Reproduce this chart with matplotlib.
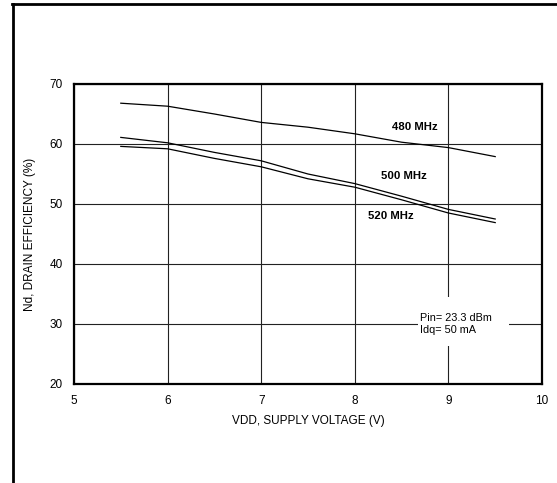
import matplotlib
matplotlib.use("Agg")
import matplotlib.pyplot as plt
from matplotlib.lines import Line2D
from matplotlib.patches import Rectangle

plt.rcParams['font.family'] = ['Liberation Sans', 'DejaVu Sans']

# supply voltage (V)
vdd = [5.5, 6.0, 6.5, 7.0, 7.5, 8.0, 8.5, 9.0, 9.5]
# drain efficiency (%) per frequency
eff_480 = [66.8, 66.3, 65.0, 63.6, 62.8, 61.7, 60.3, 59.4, 57.9]
eff_500 = [61.1, 60.2, 58.6, 57.2, 55.0, 53.4, 51.3, 49.1, 47.5]
eff_520 = [59.6, 59.2, 57.6, 56.2, 54.2, 52.8, 50.7, 48.5, 46.9]

x_ticks = [5, 6, 7, 8, 9, 10]
y_ticks = [20, 30, 40, 50, 60, 70]

fig = plt.figure(figsize=(5.57, 4.83), dpi=100)
ax = fig.add_axes([74/557, 1-384/483, 468/557, 300/483])

for vals in (eff_480, eff_500, eff_520):
    ax.plot(vdd, vals, color='black', lw=0.9, zorder=3)

ax.set_xlim(5, 10)
ax.set_ylim(20, 70)
ax.set_xticks(x_ticks)
ax.set_yticks(y_ticks)
ax.tick_params(length=0, labelsize=8.5, pad=8)
ax.grid(True, color='#222222', lw=0.8)
ax.set_axisbelow(True)
for s in ax.spines.values():
    s.set_linewidth(1.6)

ax.set_xlabel("VDD, SUPPLY VOLTAGE (V)", fontsize=8.5, labelpad=6)
ax.set_ylabel("Nd, DRAIN EFFICIENCY (%)", fontsize=8.5, labelpad=10)

ax.text(8.4, 62.8, "480 MHz", fontsize=8.2, fontweight='bold', va='center')
ax.text(8.28, 54.7, "500 MHz", fontsize=8.2, fontweight='bold', va='center')
ax.text(8.14, 48.0, "520 MHz", fontsize=8.2, fontweight='bold', va='center')

# white box behind the conditions note
ax.add_patch(Rectangle((8.67, 26.3), 0.98, 8.2, facecolor='white',
                       edgecolor='none', zorder=1))
ax.text(8.70, 30.0, "Pin= 23.3 dBm\nIdq= 50 mA", fontsize=7.8, va='center',
        linespacing=1.35, zorder=4)

# page frame lines
fig.add_artist(Line2D([12/557, 1], [1-4/483, 1-4/483], color='black', lw=2))
fig.add_artist(Line2D([13/557, 13/557], [0, 1-4/483], color='black', lw=2))

fig.savefig("out.png", dpi=100)
